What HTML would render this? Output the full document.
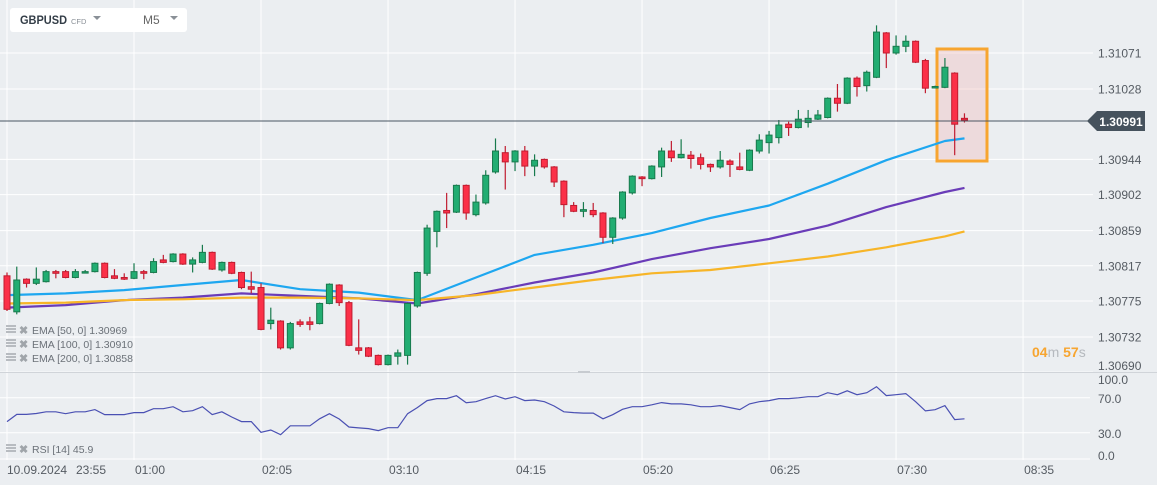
<!DOCTYPE html>
<html><head><meta charset="utf-8"><style>
body{margin:0;background:#ebeef1;font-family:"Liberation Sans",sans-serif;}
svg{display:block}
</style></head><body>
<svg id="chart" width="1157" height="485" xmlns="http://www.w3.org/2000/svg" font-family="Liberation Sans, sans-serif">
<rect x="0" y="0" width="1157" height="485" fill="#ebeef1"/>
<g id="grid"></g>
<rect x="937" y="49" width="50" height="112" fill="rgba(240,180,180,0.35)" stroke="#f7a530" stroke-width="3"/>
<g id="emas"></g>
<g id="candles"></g>
<line x1="0" y1="121" x2="1090" y2="121" stroke="#4a5562" stroke-width="1"/>
<g>
<path d="M1087 121 L1097 111 L1145 111 L1145 131 L1097 131 Z" fill="#46525d"/>
<text x="1121" y="126" text-anchor="middle" font-size="12" font-weight="bold" fill="#fff">1.30991</text>
</g>
<g id="yaxis"></g>
<line x1="0" y1="372.5" x2="1157" y2="372.5" stroke="#d0d4d9" stroke-width="1"/>
<rect x="578" y="371" width="12" height="2" fill="#c7cbd0"/>
<g id="rsi"></g>
<g id="xaxis"></g>
<g>
<text x="1032" y="357" font-size="14" fill="#f7a530"><tspan font-weight="bold">04</tspan><tspan fill="#b5b9be">m </tspan><tspan font-weight="bold">57</tspan><tspan fill="#b5b9be">s</tspan></text>
</g>
<g>
<rect x="10" y="8" width="177" height="24" rx="3" fill="#fff"/>
<text x="20" y="24" font-size="12" font-weight="bold" fill="#333d47" textLength="47" lengthAdjust="spacingAndGlyphs">GBPUSD</text>
<text x="71" y="24" font-size="7.5" fill="#8a9097">CFD</text>
<path d="M93 16 L101 16 L97 20 Z" fill="#8a9097"/>
<text x="143" y="24" font-size="12" fill="#666">M5</text>
<path d="M170 16 L178 16 L174 20 Z" fill="#8a9097"/>
</g>
<g id="legends"></g>
</svg>
<script>
const times=["23:55","01:00","02:05","03:10","04:15","05:20","06:25","07:30","08:35"];
const priceTicks=[1.31071,1.31028,1.30944,1.30902,1.30859,1.30817,1.30775,1.30732,1.30690];
const rsiTicks=[100,70,30,0];
const opens=[130805,130762,130801,130796,130798,130810,130810,130803,130809,130810,130820,130805,130803,130802,130810,130809,130824,130822,130831,130819,130821,130833,130812,130821,130809,130792,130791,130748,130751,130719,130750,130750,130748,130772,130794,130773,130719,130719,130710,130699,130709,130710,130769,130808,130858,130883,130881,130913,130878,130892,130929,130952,130941,130954,130936,130944,130935,130918,130889,130882,130883,130880,130851,130874,130904,130923,130921,130935,130954,130946,130949,130946,130938,130935,130942,130935,130931,130954,130964,130970,130986,130982,130988,130992,130994,131017,131011,131041,131032,131042,131095,131071,131079,131085,131062,131030,131030,131047,130993];
const highs=[130809,130816,130802,130815,130812,130812,130812,130813,130812,130821,130821,130813,130808,130820,130812,130826,130830,130832,130832,130827,130842,130834,130822,130822,130810,130810,130796,130767,130752,130750,130753,130756,130773,130796,130795,130775,130753,130720,130711,130711,130717,130773,130810,130866,130883,130904,130914,130914,130902,130931,130969,130960,130955,130960,130950,130945,130936,130919,130893,130893,130892,130881,130875,130906,130925,130924,130937,130958,130966,130968,130954,130951,130939,130954,130944,130952,130956,130974,130978,130991,130989,131003,131003,131003,131018,131034,131042,131043,131050,131104,131096,131092,131092,131086,131064,131032,131065,131048,130999];
const lows=[130763,130759,130791,130794,130797,130802,130802,130802,130808,130809,130802,130801,130800,130801,130801,130808,130820,130821,130818,130809,130820,130812,130810,130807,130789,130784,130740,130741,130717,130717,130744,130740,130747,130771,130769,130721,130711,130708,130698,130698,130699,130699,130767,130805,130839,130862,130880,130872,130876,130890,130927,130908,130930,130924,130924,130933,130911,130875,130881,130875,130875,130844,130843,130872,130902,130912,130920,130923,130941,130945,130933,130932,130929,130933,130923,130931,130930,130951,130951,130963,130972,130981,130982,130991,130993,131001,131010,131019,131025,131041,131053,131069,131072,131059,131023,131029,131029,130949,130988];
const closes=[130765,130800,130796,130801,130810,130808,130803,130810,130810,130820,130803,130802,130801,130810,130808,130822,130821,130831,130819,130824,130833,130813,130821,130808,130791,130789,130741,130752,130719,130748,130747,130747,130772,130795,130773,130722,130716,130709,130699,130710,130713,130772,130809,130862,130882,130880,130913,130880,130893,130925,130954,130941,130954,130936,130943,130935,130917,130890,130882,130884,130878,130851,130874,130905,130924,130921,130936,130954,130946,130950,130945,130938,130935,130943,130938,130932,130955,130967,130973,130985,130982,130992,130993,130997,131017,131011,131041,131031,131048,131096,131071,131079,131085,131060,131029,131031,131054,130986,130991];
const emaIdx=[0,6,12,18,24,30,36,42,48,54,60,66,72,78,84,90,96,98];
const ema50=[130782,130784,130788,130794,130800,130789,130785,130776,130803,130830,130842,130856,130874,130889,130915,130943,130966,130969];
const ema100=[130767,130770,130776,130779,130784,130781,130778,130772,130783,130797,130809,130825,130838,130849,130865,130887,130905,130910];
const ema200=[130772,130773,130776,130777,130779,130779,130778,130776,130782,130791,130800,130808,130812,130820,130828,130839,130852,130858];
const rsiValues=[42.7,51,51,52,54,54,51.8,54,54,56.4,50.7,50.7,50.7,53,53,57.5,57.5,59.8,54,55.2,59.8,50.7,54,48,42.7,42.7,30.5,33.1,27.8,38,38,38,46,51.8,45.7,36.6,35.5,34.7,32.4,35.8,35.8,51.8,58.7,66.7,69,69,72.3,64.3,65.5,69,72.3,68.6,71.2,66.7,67.4,65.5,60.6,54,53,52.5,52.5,46,50.6,56.8,59.8,59.8,62,64.4,63,63,62,59.8,59.8,61,58.7,56.4,63,65.5,66.7,69,69,70,71.2,71.2,75.8,73.5,78,73.5,75.8,82.6,72.4,73.5,74.7,65.5,55,56.3,61,45,46];
const emaLegend=[["EMA [50,  0]","1.30969"],["EMA [100,  0]","1.30910"],["EMA [200,  0]","1.30858"]];
const emaColors=["#1ea7f0","#6a3cb8","#f7b528"];

const NS="http://www.w3.org/2000/svg";
function mk(tag,attrs,parent){const e=document.createElementNS(NS,tag);for(const k in attrs)e.setAttribute(k,attrs[k]);parent.appendChild(e);return e;}
const X=i=>7+i*9.77;
const Y=p=>53+(1.31071-p)*83765;
const P=v=>v/100000;
const RY=v=>459-v*0.875;
const gridG=document.getElementById('grid');
for(let k=0;k<times.length;k++){
  const l=mk('line',{x1:X(k*13),y1:0,x2:X(k*13),y2:460,stroke:'#fff','stroke-width':1},gridG);
  
  
}
const yax=document.getElementById('yaxis');
priceTicks.forEach(t=>{
  const y=Y(t);
  const l=mk('line',{x1:0,y1:y,x2:1093,y2:y,stroke:'#fff','stroke-width':1},gridG);
  
  
  const ty=Math.min(y+4.5,370);
  const tx=mk('text',{x:1098,y:ty,'font-size':12,fill:'#555b62'},yax);
  tx.textContent=t.toFixed(5);
  
  
});
const emaG=document.getElementById('emas');
[ema50,ema100,ema200].forEach((arr,k)=>{
  const d=arr.map((v,j)=>(j?'L':'M')+X(emaIdx[j]).toFixed(1)+' '+Y(P(v)).toFixed(1)).join(' ');
  const pth=mk('path',{d:d,fill:'none',stroke:emaColors[k],'stroke-width':2.2,'stroke-linejoin':'round'},emaG);
  
  
});
const cg=document.getElementById('candles');
opens.forEach((o,i)=>{
  const c=closes[i],up=c>=o;
  const fill=up?'#22ad72':'#fb3048',st=up?'#187a4d':'#c01c30';
  const x=X(i);
  const g=mk('g',{},cg);
  
  
  mk('line',{x1:x,x2:x,y1:Y(P(highs[i])),y2:Y(P(lows[i])),stroke:st,'stroke-width':1.2},g);
  const top=Y(P(Math.max(o,c))),bot=Y(P(Math.min(o,c)));
  mk('rect',{x:x-3,y:top,width:6,height:Math.max(bot-top,1.5),fill:fill,stroke:st,'stroke-width':1},g);
});
const rg=document.getElementById('rsi');
rsiTicks.forEach(t=>{
  const y=RY(t);
  if(t!==100){const l=mk('line',{x1:0,y1:y,x2:1090,y2:y,stroke:'#fff','stroke-width':1},rg);
  
  }
  const tx=mk('text',{x:1098,y:t===100?384:(t===0?460:y+5),'font-size':12,fill:'#555b62'},rg);
  tx.textContent=t.toFixed(1);
  
  
});
const rd=rsiValues.map((v,i)=>(i?'L':'M')+X(i).toFixed(1)+' '+RY(v).toFixed(1)).join(' ');
const rl=mk('path',{d:rd,fill:'none',stroke:'#4a50b3','stroke-width':1.2},rg);


const xg=document.getElementById('xaxis');
times.forEach((t,k)=>{
  const tx=mk('text',{x:k===0?76:X(k*13)+1,y:474,'font-size':12,fill:'#555b62'},xg);
  tx.textContent=t;
  
  
});
const dl=mk('text',{x:7,y:474,'font-size':12,fill:'#555b62'},xg);
dl.textContent='10.09.2024';


const lg=document.getElementById('legends');
function legend(y,label,val,name){
  const g=mk('g',{},lg);
  
  
  mk('rect',{x:6,y:y-8,width:10,height:2,fill:'#b7bbc0'},g);
  mk('rect',{x:6,y:y-5,width:10,height:2,fill:'#b7bbc0'},g);
  mk('rect',{x:6,y:y-2,width:10,height:2,fill:'#b7bbc0'},g);
  const x=mk('text',{x:19,y:y+1,'font-size':11,fill:'#a0a5aa','font-weight':'bold'},g);x.textContent='✖';
  const t=mk('text',{x:32,y:y+1,'font-size':10.5,fill:'#6b7178'},g);t.textContent=label+' '+val;
}
emaLegend.forEach((e,k)=>legend(333+k*14,e[0],e[1],'ema-legend-entry'));
legend(452,'RSI [14]','45.9','rsi-legend-entry');
</script>
</body></html>
